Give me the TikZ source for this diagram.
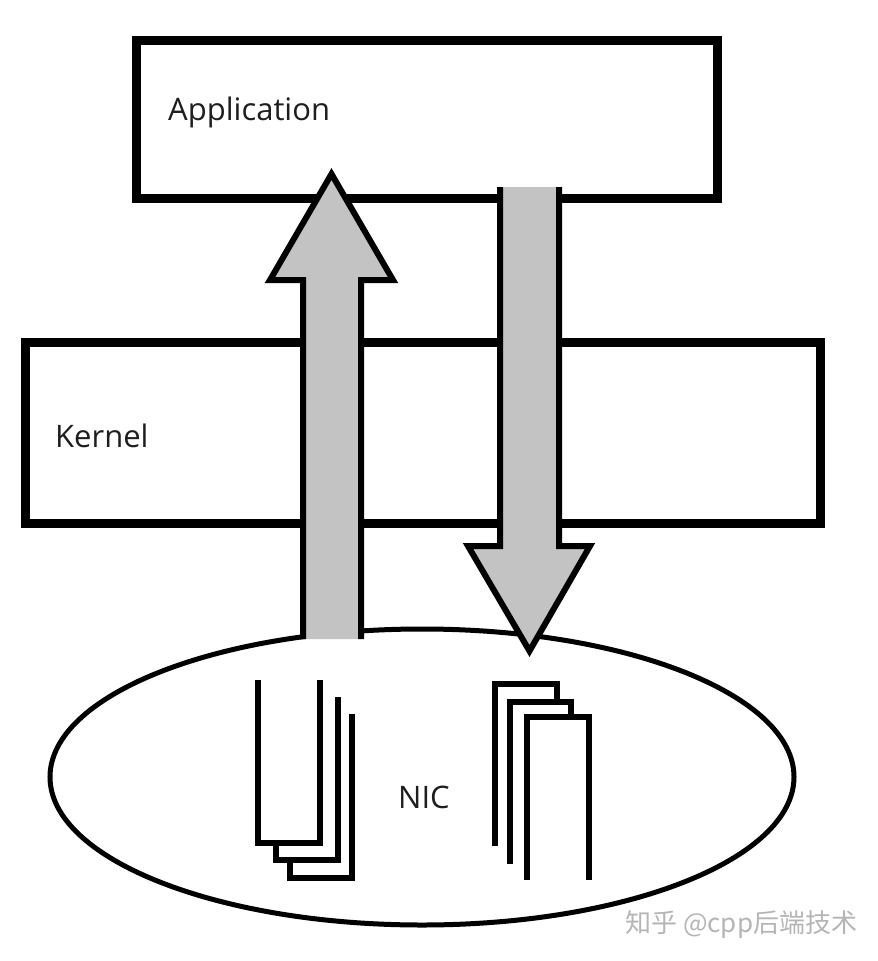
\documentclass[tikz,border=0pt]{standalone}
\usepackage{fontspec}
\setmainfont{Open Sans}
\newfontfamily\cjkfont{Noto Sans CJK SC}
\usepackage{tikz}
\usetikzlibrary{shapes.geometric}
\definecolor{arrowgray}{HTML}{C3C3C3}
\definecolor{inkgray}{HTML}{1E1E1E}
\definecolor{markgray}{HTML}{B5B5B5}

\tikzset{
  layer/.style={draw, line width=9pt, fill=white, inner sep=0pt},
  layertext/.style={anchor=base west, inner sep=0pt, text=inkgray, font=\fontsize{31}{37}\selectfont},
  blockarrow/.style={fill=arrowgray, draw=black, line width=6pt},
  buffer/.style={fill=white, draw=black, line width=6pt}
}

\begin{document}
\begin{tikzpicture}[x=1pt,y=-1pt]
\useasboundingbox (0,0) rectangle (878,961);

% layers
\node[layer, minimum width=581pt, minimum height=158pt] (app) at (426.5,119) {};
\node[layer, minimum width=795pt, minimum height=181pt] (kernel) at (422.5,432.5) {};
\node[draw, ellipse, line width=5pt, inner sep=0pt, minimum width=744pt, minimum height=296pt] (nic) at (422,777) {};

\node[layertext] (applabel) at (168,120) {Application};
\node[layertext] (kernellabel) at (55,447) {Kernel};
\node[layertext] (niclabel) at (398,808) {NIC};

% receive buffers
\filldraw[buffer] (290,714) -- (290,878) -- (352,878) -- (352,714);
\filldraw[buffer] (276,697) -- (276,860) -- (338,860) -- (338,697);
\filldraw[buffer] (258,680) -- (258,843) -- (320,843) -- (320,680);

% send buffers
\filldraw[buffer] (495,846) -- (495,684) -- (557,684) -- (557,846);
\filldraw[buffer] (510,864) -- (510,702) -- (571,702) -- (571,864);
\filldraw[buffer] (527,880) -- (527,717) -- (589,717) -- (589,880);

% up and down
\filldraw[blockarrow] (303,639) -- (303,280) -- (270,280) -- (331.5,174) -- (393,280) -- (361,280) -- (361,639);
\filldraw[blockarrow] (500,187) -- (500,546) -- (468,546) -- (529.5,651) -- (590,546) -- (559,546) -- (559,187);

\node[anchor=base west, inner sep=0pt, text=markgray, font=\cjkfont\fontsize{26}{30}\selectfont] (mark) at (625,932) {知乎 @cpp后端技术};
\end{tikzpicture}
\end{document}
